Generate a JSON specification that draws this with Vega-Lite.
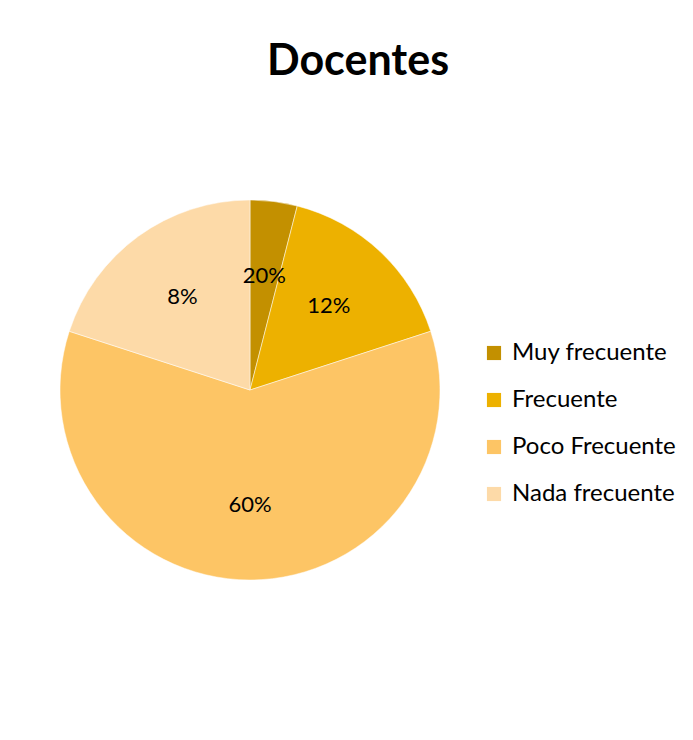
{
  "$schema": "https://vega.github.io/schema/vega-lite/v6.json",
  "autosize": {"type": "none"},
  "padding": {"left": 8, "top": 100, "right": 201, "bottom": 60},
  "width": 484,
  "height": 580,
  "background": "white",
  "config": {"view": {"stroke": null}, "font": "Lato"},
  "title": {
    "text": "Docentes",
    "font": "Lato",
    "fontSize": 43,
    "fontWeight": "bold",
    "color": "#000000",
    "anchor": "middle",
    "dx": 108,
    "offset": 16
  },
  "data": {
    "values": [
      {"categoria": "Muy frecuente", "valor": 4, "etiqueta": "20%", "orden": 1},
      {"categoria": "Frecuente", "valor": 16, "etiqueta": "12%", "orden": 2},
      {"categoria": "Poco Frecuente", "valor": 60, "etiqueta": "60%", "orden": 3},
      {"categoria": "Nada frecuente", "valor": 20, "etiqueta": "8%", "orden": 4}
    ]
  },
  "encoding": {
    "theta": {"field": "valor", "type": "quantitative", "stack": true},
    "order": {"field": "orden", "type": "quantitative"}
  },
  "layer": [
    {
      "mark": {"type": "arc", "outerRadius": 190, "stroke": "#ffffff", "strokeWidth": 0.5},
      "encoding": {
        "color": {
          "field": "categoria",
          "type": "nominal",
          "sort": ["Muy frecuente", "Frecuente", "Poco Frecuente", "Nada frecuente"],
          "scale": {
            "domain": ["Muy frecuente", "Frecuente", "Poco Frecuente", "Nada frecuente"],
            "range": ["#C39000", "#EDB100", "#FDC565", "#FDDAA8"]
          },
          "legend": {
            "title": null,
            "orient": "none",
            "legendX": 474,
            "legendY": 241,
            "symbolType": "square",
            "symbolSize": 200,
            "symbolStrokeWidth": 0,
            "labelFontSize": 24,
            "labelFont": "Lato",
            "labelColor": "#000000",
            "labelOffset": 6,
            "rowPadding": 23,
            "labelLimit": 300
          }
        }
      }
    },
    {
      "mark": {"type": "text", "radius": 115, "fontSize": 22, "font": "Lato", "color": "#000000"},
      "encoding": {
        "text": {"field": "etiqueta", "type": "nominal"}
      }
    }
  ]
}
